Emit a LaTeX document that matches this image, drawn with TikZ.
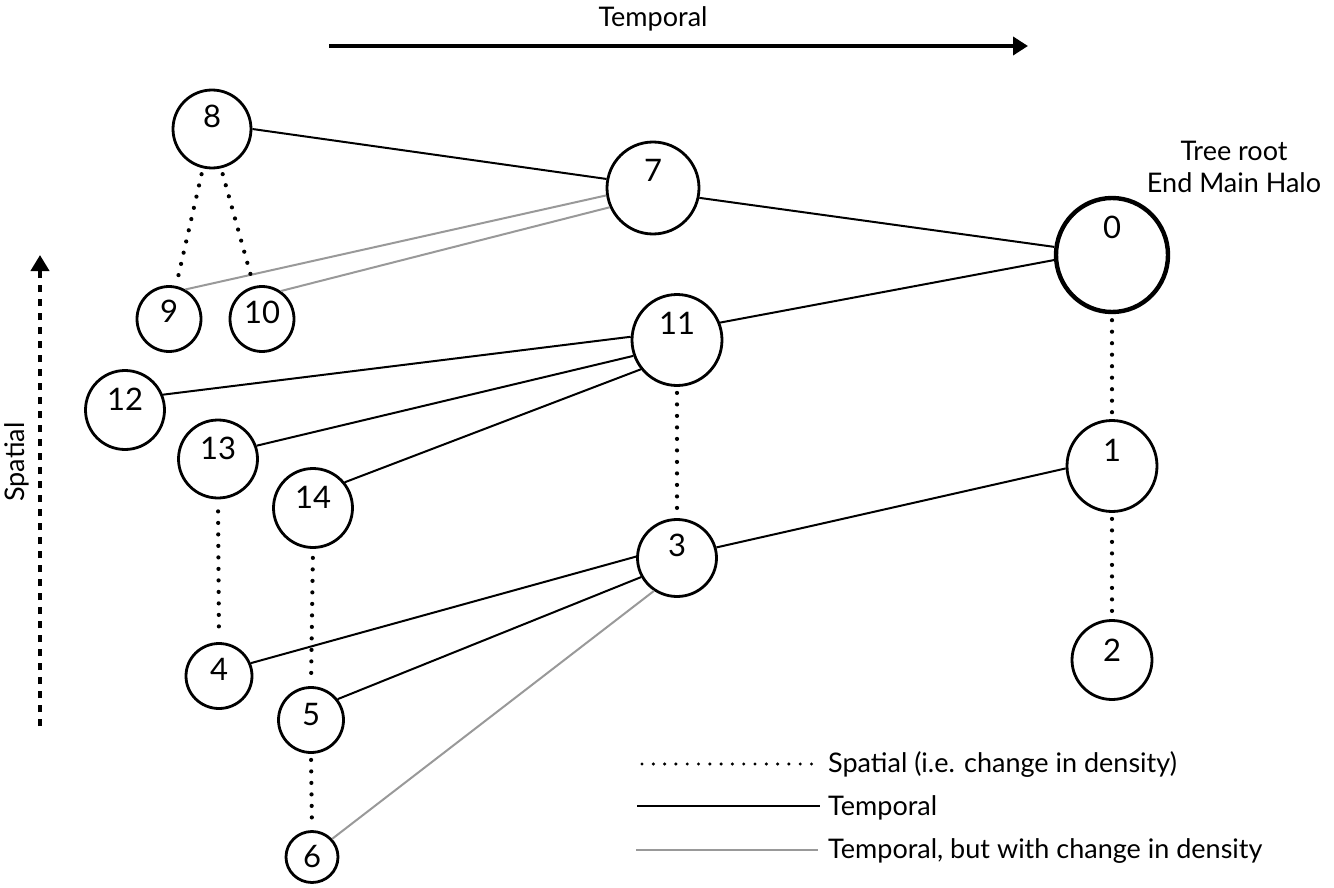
\documentclass[tikz,border=0pt]{standalone}
\usepackage{fontspec}
\setmainfont{Lato}
\usetikzlibrary{arrows.meta,shapes.geometric}
\begin{document}
\begin{tikzpicture}[x=1pt,y=-1pt,
  nd/.style={ellipse,draw,line width=2.8pt,inner sep=0pt},
  lab/.style={font=\fontsize{31}{34}\selectfont,inner sep=0pt},
  txt/.style={font=\fontsize{27}{30}\selectfont},
  tmp/.style={line width=2pt},
  grey/.style={line width=2pt,draw=black!40},
  spat/.style={line width=4.2pt,line cap=round,dash pattern=on 0pt off 11.5pt,shorten >=6pt,shorten <=6pt}]
\useasboundingbox (0,0) rectangle (1334,888);
% nodes
\node[nd,minimum width=78pt,minimum height=78pt] (n8) at (212,129) {};
\node[nd,minimum width=92pt,minimum height=92pt] (n7) at (653,188) {};
\node[nd,minimum width=112pt,minimum height=114pt,line width=4.4pt] (n0) at (1112,255) {};
\node[nd,minimum width=64pt,minimum height=65pt] (n9) at (169,319) {};
\node[nd,minimum width=64pt,minimum height=65pt] (n10) at (262,319) {};
\node[nd,minimum width=90pt,minimum height=91pt] (n11) at (677,340) {};
\node[nd,minimum width=79pt,minimum height=79pt] (n12) at (125,410) {};
\node[nd,minimum width=79pt,minimum height=78pt] (n13) at (218,459) {};
\node[nd,minimum width=79pt,minimum height=79pt] (n14) at (313,508) {};
\node[nd,minimum width=90pt,minimum height=91pt] (n1) at (1112,466) {};
\node[nd,minimum width=79pt,minimum height=77pt] (n3) at (677,558) {};
\node[nd,minimum width=80pt,minimum height=79pt] (n2) at (1112,660) {};
\node[nd,minimum width=66pt,minimum height=65pt] (n4) at (219,676) {};
\node[nd,minimum width=65pt,minimum height=65pt] (n5) at (311,720) {};
\node[nd,minimum width=52pt,minimum height=51pt] (n6) at (312,857) {};
% labels
\node[lab] (t8) at ([yshift=-28pt]n8.north) {8};
\node[lab] (t7) at ([yshift=-30pt]n7.north) {7};
\node[lab] (t0) at ([yshift=-32pt]n0.north) {0};
\node[lab] (t9) at ([yshift=-26pt]n9.north) {9};
\node[lab] (t10) at ([yshift=-27pt]n10.north) {10};
\node[lab] (t11) at ([yshift=-30pt]n11.north) {11};
\node[lab] (t12) at ([yshift=-30pt]n12.north) {12};
\node[lab] (t13) at ([yshift=-30pt]n13.north) {13};
\node[lab] (t14) at ([yshift=-30pt]n14.north) {14};
\node[lab] (t1) at ([yshift=-31pt]n1.north) {1};
\node[lab] (t3) at ([yshift=-27pt]n3.north) {3};
\node[lab] (t2) at ([yshift=-31pt]n2.north) {2};
\node[lab] (t4) at ([yshift=-27pt]n4.north) {4};
\node[lab] (t5) at ([yshift=-28pt]n5.north) {5};
\node[lab] (t6) at ([yshift=-26pt]n6.north) {6};
% temporal edges
\draw[tmp] (n8.0) -- (n7.169);
\draw[tmp] (n7.-12) -- (n0.172);
\draw[tmp] (n11.22) -- (n0.185);
\draw[tmp] (n12.22) -- (n11.176);
\draw[tmp] (n13.19) -- (n11.200);
\draw[tmp] (n14.39) -- (n11.219);
\draw[tmp] (n3.15) -- (n1.183);
\draw[tmp] (n4.22) -- (n3.178);
\draw[tmp] (n5.38) -- (n3.208);
% grey edges
\draw[grey] (n9.61) -- (n7.189);
\draw[grey] (n10.56) -- (n7.204);
\draw[grey] (n6.42) -- (n3.235);
% spatial edges
\draw[spat] (n8.257) -- (n9.78);
\draw[spat] (n8.283) -- (n10.104);
\draw[spat] (n11.south) -- (n3.north);
\draw[spat] (n0.south) -- (n1.north);
\draw[spat] (n1.south) -- (n2.north);
\draw[spat,shorten <=12pt] (n13.south) -- (n4.north);
\draw[spat,shorten <=9pt] (n14.south) -- (n5.north);
\draw[spat] (n5.south) -- (n6.north);
% root text
\node[txt,align=center] (root) at (1234,167) {Tree root\\[2pt]End Main Halo};
% axes
\coordinate (ta) at (329,46);
\coordinate (tb) at (1028,46);
\draw[line width=4.4pt,-{Triangle[length=15pt,width=18pt]}] (ta) -- (tb);
\node[txt] (tl) at (653,19) {Temporal};
\coordinate (sa) at (40,726);
\coordinate (sb) at (40,255);
\draw[line width=4pt,dash pattern=on 7pt off 7pt,-{Triangle[length=16pt,width=18pt]}] (sa) -- (sb);
\node[txt,rotate=90] (sl) at (17,462) {Spatial};
% legend
\coordinate (l1a) at (642,764);
\coordinate (l1b) at (812,764);
\draw[line width=3.4pt,line cap=round,dash pattern=on 0pt off 11.3pt] (l1a) -- (l1b);
\node[txt,anchor=west,inner sep=0pt] (t1l) at (828,764) {Spatial (i.e. change in density)};
\coordinate (l2a) at (637,806);
\coordinate (l2b) at (820,806);
\draw[tmp,line width=2.6pt] (l2a) -- (l2b);
\node[txt,anchor=west,inner sep=0pt] (t2l) at (828,808) {Temporal};
\coordinate (l3a) at (636,850);
\coordinate (l3b) at (818,850);
\draw[grey,line width=2.6pt] (l3a) -- (l3b);
\node[txt,anchor=west,inner sep=0pt] (t3l) at (828,851) {Temporal, but with change in density};
\end{tikzpicture}
\end{document}
